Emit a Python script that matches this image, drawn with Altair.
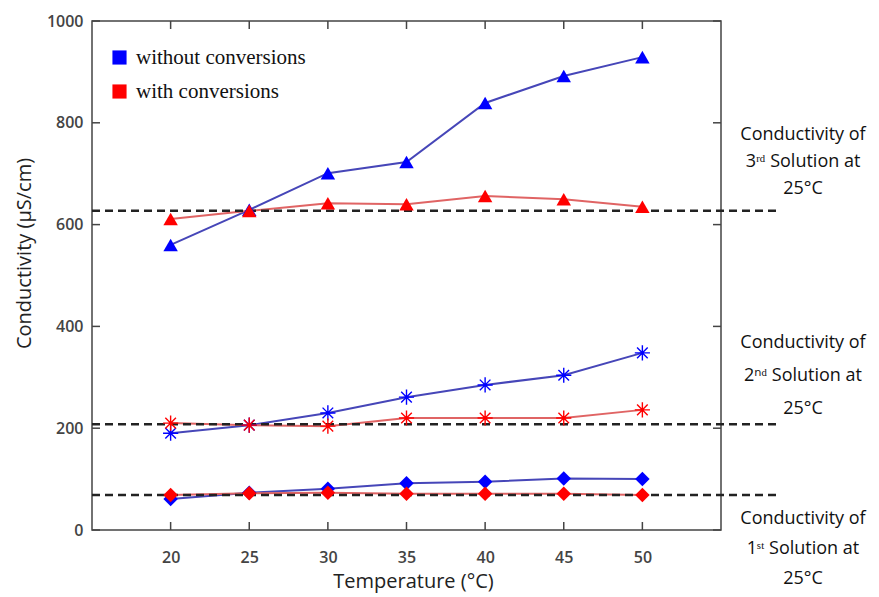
import altair as alt
import pandas as pd

# ---- data ----
temps = [20, 25, 30, 35, 40, 45, 50]
sol3_without = [560, 629, 701, 723, 839, 892, 929]
sol3_with = [611, 627, 642, 640, 656, 650, 635]
sol2_without = [190, 206, 230, 261, 285, 304, 348]
sol2_with = [210, 206, 204, 220, 220, 220, 236]
sol1_without = [61, 73, 81, 92, 95, 101, 100]
sol1_with = [69, 72, 73, 71, 71, 71, 69]

methods = ["without conversions", "with conversions"]
solutions = ["1st", "2nd", "3rd"]
ref_values = [69, 208, 627]  # conductivity of each solution at 25 C
ref_labels = [
    "Conductivity of\n1ˢᵗ Solution at\n25°C",
    "Conductivity of\n2ⁿᵈ Solution at\n25°C",
    "Conductivity of\n3ʳᵈ Solution at\n25°C",
]
x_ticks = [20, 25, 30, 35, 40, 45, 50]
y_ticks = [0, 200, 400, 600, 800, 1000]

series = {
    ("1st", "without conversions"): sol1_without,
    ("1st", "with conversions"): sol1_with,
    ("2nd", "without conversions"): sol2_without,
    ("2nd", "with conversions"): sol2_with,
    ("3rd", "without conversions"): sol3_without,
    ("3rd", "with conversions"): sol3_with,
}
rows = []
for (sol, meth), vals in series.items():
    for t, v in zip(temps, vals):
        rows.append({"temp": t, "value": v, "solution": sol, "method": meth,
                     "key": sol + " " + meth})
df = pd.DataFrame(rows)
ref_df = pd.DataFrame({"solution": solutions, "ref": ref_values, "label": ref_labels})
xt_df = pd.DataFrame({"t": x_ticks})
yt_df = pd.DataFrame({"v": y_ticks})

W, H = 629, 509
xscale = alt.Scale(domain=[15, 55], nice=False, zero=False)
yscale = alt.Scale(domain=[0, 1000], nice=False)

x_axis = alt.Axis(values=x_ticks, format="d", title="Temperature (°C)", labelFont="Open Sans",
                  labelFontSize=16, labelFontWeight=600, labelColor="#444",
                  labelPadding=19, titleFont="Open Sans", titleFontSize=20,
                  titleFontWeight="normal", titleColor="#222", titlePadding=6,
                  titleX=321)
y_axis = alt.Axis(values=y_ticks, format="d", title="Conductivity (µS/cm)", labelFont="Open Sans",
                  labelFontSize=16, labelFontWeight=600, labelColor="#444",
                  labelPadding=9, titleFont="Open Sans", titleFontSize=20,
                  titleFontWeight="normal", titleColor="#222", titlePadding=12,
                  titleY=232)

X = lambda f: alt.X(f, scale=xscale, axis=x_axis)
Y = lambda f: alt.Y(f, scale=yscale, axis=y_axis)

line_colors = ["#4646b8", "#e06464"]
point_colors = ["#0000ff", "#ff0000"]

lines = alt.Chart(df).mark_line(strokeWidth=2).encode(
    x=X("temp:Q"),
    y=Y("value:Q"),
    color=alt.Color("method:N", scale=alt.Scale(domain=methods, range=line_colors), legend=None),
    detail="key:N",
)

filled = alt.Chart(df).transform_filter(
    alt.datum.solution != "2nd"
).mark_point(filled=True, size=210, opacity=1).encode(
    x=X("temp:Q"),
    y=Y("value:Q"),
    color=alt.Color("method:N", scale=alt.Scale(domain=methods, range=point_colors),
                    legend=alt.Legend(title=None, orient="none", legendX=17, legendY=26,
                                      symbolType="square", symbolSize=200,
                                      symbolStrokeWidth=0, labelFont="Liberation Serif",
                                      labelFontSize=21, labelColor="#111", labelLimit=400,
                                      rowPadding=12, padding=0, labelOffset=6)),
    shape=alt.Shape("solution:N", scale=alt.Scale(domain=["1st", "3rd"],
                                                  range=["diamond", "triangle-up"]),
                    legend=None),
)

asterisk_path = "M-1,0L1,0M0,-1L0,1M-0.7,-0.7L0.7,0.7M-0.7,0.7L0.7,-0.7"
stars = alt.Chart(df).transform_filter(
    alt.datum.solution == "2nd"
).mark_point(filled=False, size=230, strokeWidth=1.4, shape=asterisk_path, opacity=1).encode(
    x=X("temp:Q"),
    y=Y("value:Q"),
    color=alt.Color("method:N", scale=alt.Scale(domain=methods, range=point_colors), legend=None),
)

dashes = alt.Chart(ref_df).mark_rule(
    color="#222", strokeWidth=2.5, strokeDash=[8, 5], clip=False
).encode(
    y=Y("ref:Q"),
    x=alt.value(0),
    x2=alt.value(W + 57),
)

texts = []
for sol, dy, lh in zip(solutions, [24, -81, -76], [30, 33, 27]):
    texts.append(
        alt.Chart(ref_df).transform_filter(alt.datum.solution == sol).mark_text(
            font="Open Sans", fontSize=18, color="#111", align="center",
            baseline="middle", lineBreak="\n", lineHeight=lh, dy=dy
        ).encode(
            y=Y("ref:Q"),
            x=alt.value(W + 82),
            text="label:N",
        )
    )

tick_style = dict(color="#444", strokeWidth=1.5)
xt_bottom = alt.Chart(xt_df).mark_rule(**tick_style).encode(
    x=X("t:Q"), y=alt.value(H), y2=alt.value(H - 8))
xt_top = alt.Chart(xt_df).mark_rule(**tick_style).encode(
    x=X("t:Q"), y=alt.value(0), y2=alt.value(8))
yt_left = alt.Chart(yt_df).mark_rule(**tick_style).encode(
    y=Y("v:Q"), x=alt.value(0), x2=alt.value(8))
yt_right = alt.Chart(yt_df).mark_rule(**tick_style).encode(
    y=Y("v:Q"), x=alt.value(W - 8), x2=alt.value(W))

chart = alt.layer(
    lines, xt_bottom, xt_top, yt_left, yt_right, dashes, filled, stars, *texts
).resolve_scale(color="independent").properties(
    width=W, height=H,
    autosize=alt.AutoSizeParams(type="none"),
    padding={"left": 92, "top": 21, "right": 158, "bottom": 67},
).configure_view(
    stroke="#444", strokeWidth=1.5
).configure_axis(
    grid=False, domain=False, ticks=False
)

chart.save("out.html", embed_options={"renderer": "svg", "actions": False})
